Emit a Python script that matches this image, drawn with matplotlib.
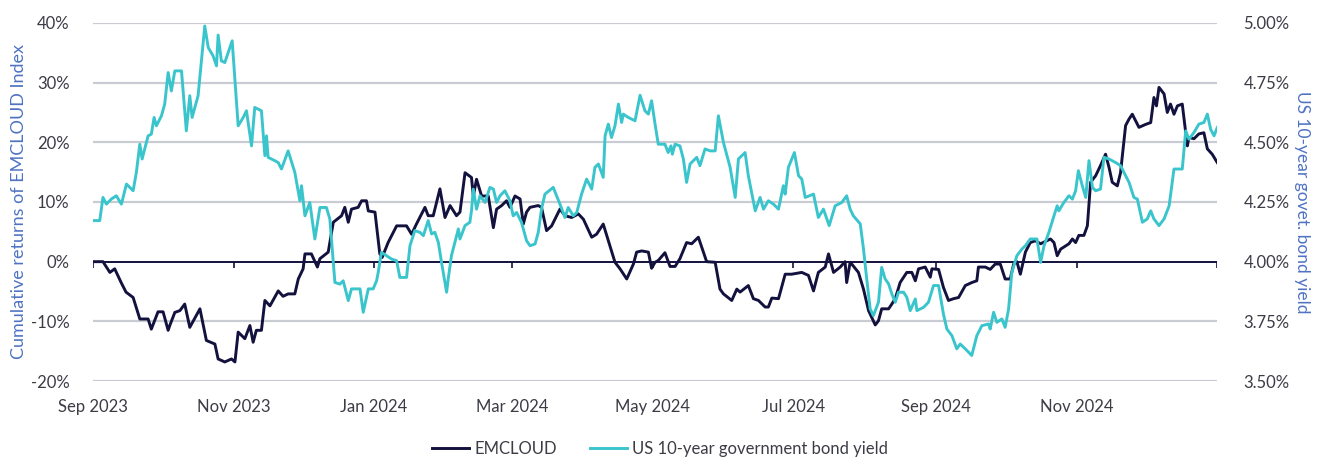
import matplotlib
matplotlib.use("Agg")
import matplotlib.pyplot as plt
import matplotlib.dates as mdates
import pandas as pd

plt.rcParams['font.family'] = ['Lato', 'DejaVu Sans']

START = pd.Timestamp("2023-09-01")
END = pd.Timestamp("2025-01-01")

# EMCLOUD cumulative return (%), day offsets from 2023-09-01
em_days = [0.0, 4.3, 7.3, 9.4, 12.2, 14.3, 17.4, 20.3, 23.9, 25.3, 28.2, 30.4, 32.6, 33.3, 35.5,
           37.7, 39.8, 42.0, 46.4, 49.2, 52.9, 54.3, 57.2, 60.1, 61.6, 63.0, 65.9, 68.1, 69.5,
           70.9, 73.1, 74.6, 76.8, 80.4, 82.5, 84.7, 87.6, 89.1, 91.2, 92.0, 94.8, 97.4, 98.5,
           102.1, 104.3, 107.9, 109.3, 110.8, 112.2, 115.1, 116.6, 118.7, 119.5, 122.4, 124.5,
           125.5, 128.1, 131.8, 136.1, 138.3, 140.4, 144.1, 145.5, 147.7, 150.6, 152.8, 155.0,
           157.8, 159.3, 161.5, 164.3, 165.1, 166.5, 168.7, 171.6, 173.8, 175.2, 177.4, 179.5,
           181.0, 183.2, 185.4, 186.8, 188.2, 189.7, 193.3, 194.7, 196.9, 199.1, 202.7, 204.9,
           207.8, 210.7, 212.9, 216.5, 218.6, 221.5, 223.0, 226.6, 228.8, 231.7, 234.6, 236.0,
           238.2, 241.1, 242.5, 244.0, 245.4, 248.3, 250.5, 252.7, 254.8, 257.7, 259.9, 262.8,
           265.0, 266.4, 270.1, 272.2, 273.7, 277.3, 279.5, 280.9, 284.5, 286.7, 288.9, 291.8,
           293.2, 294.7, 297.6, 300.5, 303.3, 307.7, 310.6, 312.8, 314.9, 317.9, 319.3, 321.5,
           324.4, 326.5, 327.2, 328.7, 329.4, 332.3, 334.5, 336.7, 339.6, 341.0, 342.4, 345.4,
           346.8, 348.3, 350.4, 353.3, 355.5, 357.0, 358.4, 361.3, 363.5, 364.2, 367.1, 369.2,
           371.4, 373.6, 375.8, 378.7, 381.5, 383.7, 384.4, 387.4, 389.5, 391.7, 393.9, 396.0,
           398.2, 399.7, 401.1, 402.6, 404.8, 406.9, 409.1, 411.4, 415.7, 417.2, 418.6, 420.1,
           423.7, 425.2, 426.6, 428.0, 430.2, 431.7, 433.1, 435.3, 437.4, 439.6, 441.1, 442.5,
           444.7, 446.1, 448.3, 449.8, 451.2, 454.1, 457.0, 459.2, 460.6, 461.7, 462.8, 465.0,
           466.4, 467.8, 469.3, 470.8, 472.9, 475.1, 475.8, 478.0, 480.1, 482.3, 483.8, 485.9,
           488.1]
em_vals = [0.0, 0.0, -1.8, -1.2, -3.5, -5.1, -6.0, -9.6, -9.6, -11.3, -8.4, -8.4, -11.5, -10.7, -8.5,
           -8.2, -7.1, -11.0, -7.9, -13.2, -13.8, -16.3, -16.8, -16.3, -16.8, -11.8, -12.9, -10.7, -13.5,
           -11.5, -11.5, -6.5, -7.4, -4.9, -5.8, -5.4, -5.4, -2.9, -1.2, 1.3, 1.3, -0.9, 0.5,
           1.6, 6.6, 7.7, 9.1, 6.6, 8.8, 9.1, 10.2, 10.2, 8.5, 8.3, 1.3,
           0.7, 3.2, 6.0, 6.0, 4.6, 6.3, 9.1, 7.7, 7.7, 12.2, 7.4, 9.4,
           7.7, 8.3, 14.9, 14.1, 11.0, 13.8, 11.0, 11.0, 5.7, 8.8, 9.4, 10.2,
           9.1, 11.0, 10.5, 6.3, 8.3, 9.1, 9.4, 9.1, 5.2, 6.0, 8.8, 7.7,
           7.4, 8.0, 7.1, 4.1, 4.6, 6.3, 4.4, -0.1, -1.2, -2.9, -0.4, 1.6,
           1.8, 1.6, -1.1, -0.1, 0.2, 1.5, -0.8, -0.8, 0.5, 3.2, 3.0, 4.1,
           1.6, 0.0, -0.1, -4.6, -5.4, -6.5, -4.6, -5.1, -4.0, -6.2, -6.5, -7.6,
           -7.6, -6.1, -6.2, -2.1, -2.1, -1.8, -2.3, -4.9, -1.8, -0.9, 1.3, -1.8,
           -0.9, 0.0, -3.5, -0.1, -0.4, -1.8, -4.6, -8.2, -10.6, -9.9, -7.9, -7.9,
           -7.1, -6.2, -3.5, -1.8, -1.8, -3.2, -1.2, -0.9, -2.6, -1.2, -1.3, -4.3,
           -6.5, -6.2, -6.0, -4.0, -3.5, -3.2, -0.9, -0.9, -1.3, -0.4, -0.4, -2.9,
           -2.9, -0.4, 0.0, -2.1, 1.6, 3.2, 3.5, 3.0, 3.8, 3.2, 1.0, 2.1,
           3.0, 3.8, 3.2, 4.4, 4.4, 6.0, 13.3, 14.4, 16.1, 18.0, 15.8, 13.3,
           12.7, 14.9, 22.8, 23.9, 24.7, 22.5, 23.0, 23.3, 27.5, 26.1, 29.2, 28.1,
           25.0, 26.4, 24.7, 26.1, 26.4, 19.4, 20.8, 20.6, 21.4, 21.6, 18.9, 18.0,
           16.6]

# US 10-year government bond yield (%), day offsets from 2023-09-01
us_days = [0.0, 2.9, 4.3, 5.8, 7.9, 10.1, 12.3, 14.5, 17.4, 18.8, 20.3, 21.3, 23.9, 25.3, 26.5,
           27.5, 29.7, 31.1, 32.6, 34.0, 35.5, 38.4, 40.5, 42.0, 43.0, 45.6, 48.5, 50.0, 52.1,
           53.6, 54.3, 55.7, 57.2, 60.4, 63.0, 65.2, 66.6, 68.8, 70.2, 73.1, 74.6, 75.3, 76.0,
           78.9, 80.4, 81.8, 84.7, 87.6, 89.8, 90.5, 92.0, 94.1, 96.3, 98.5, 101.3, 102.8, 105.0,
           107.2, 108.6, 110.8, 112.2, 115.9, 117.3, 119.5, 121.6, 123.1, 123.8, 125.2, 127.4,
           129.6, 131.8, 133.2, 136.1, 137.6, 139.7, 141.9, 143.4, 145.5, 147.0, 148.4, 149.9,
           151.3, 153.5, 154.2, 155.6, 157.1, 158.6, 159.3, 161.5, 163.6, 164.3, 165.1, 166.5,
           168.0, 170.2, 172.3, 173.8, 175.2, 176.7, 178.8, 181.0, 182.4, 183.9, 186.0, 188.2,
           189.7, 191.9, 193.3, 194.7, 196.2, 199.8, 202.7, 204.9, 206.3, 208.5, 210.0, 212.1,
           214.3, 216.5, 217.9, 219.4, 221.5, 222.3, 223.7, 225.1, 226.6, 228.1, 229.5, 230.2,
           232.4, 235.3, 237.5, 239.6, 241.1, 242.5, 244.0, 245.4, 248.3, 249.7, 250.9, 251.5,
           252.7, 254.8, 256.3, 257.7, 259.2, 262.1, 263.5, 265.7, 267.9, 270.1, 271.5, 273.7,
           276.6, 278.8, 280.2, 283.1, 284.5, 287.5, 289.6, 291.1, 293.2, 295.4, 297.6, 299.7,
           300.5, 301.9, 304.5, 306.3, 307.7, 309.2, 312.8, 314.9, 317.1, 319.6, 322.2, 325.1,
           327.2, 328.7, 330.1, 333.1, 334.5, 335.9, 337.4, 338.8, 341.0, 342.4, 343.9, 345.4,
           346.8, 348.3, 349.7, 351.9, 353.3, 354.8, 357.0, 357.7, 360.6, 362.7, 364.9, 367.1,
           369.2, 370.7, 372.9, 375.0, 376.5, 379.4, 381.5, 383.7, 385.9, 388.8, 389.5, 391.0,
           392.4, 394.6, 396.0, 397.5, 398.9, 401.1, 403.3, 404.8, 406.9, 409.8, 411.4, 412.9,
           415.0, 417.2, 418.6, 419.3, 421.5, 423.7, 425.2, 426.6, 427.8, 429.5, 431.0, 432.4,
           433.9, 435.3, 437.4, 438.9, 441.1, 444.0, 446.1, 447.6, 449.8, 451.9, 453.4, 455.6,
           457.7, 459.2, 460.6, 462.8, 465.0, 467.2, 469.3, 472.9, 474.4, 475.8, 478.0, 480.1,
           482.3, 483.8, 485.2, 486.7, 488.1]
us_vals = [4.172, 4.172, 4.269, 4.241, 4.262, 4.276, 4.241, 4.325, 4.297, 4.374, 4.492, 4.430, 4.527, 4.534, 4.604,
           4.569, 4.611, 4.660, 4.792, 4.715, 4.799, 4.799, 4.548, 4.695, 4.604, 4.695, 4.987, 4.897, 4.862,
           4.820, 4.949, 4.841, 4.834, 4.925, 4.569, 4.604, 4.632, 4.485, 4.646, 4.632, 4.444, 4.527, 4.437,
           4.423, 4.415, 4.388, 4.464, 4.374, 4.255, 4.318, 4.192, 4.248, 4.095, 4.227, 4.227, 4.179, 3.913,
           3.906, 3.920, 3.837, 3.886, 3.886, 3.788, 3.886, 3.886, 3.920, 3.955, 4.039, 4.025,
           4.011, 4.004, 3.934, 3.934, 4.067, 4.130, 4.123, 4.109, 4.172, 4.116, 4.123, 4.081,
           3.997, 3.872, 3.928, 4.025, 4.081, 4.137, 4.095, 4.151, 4.165, 4.213, 4.304, 4.220,
           4.276, 4.248, 4.311, 4.304, 4.248, 4.276, 4.297, 4.255, 4.192, 4.206, 4.165, 4.088,
           4.067, 4.074, 4.123, 4.220, 4.283, 4.311, 4.241, 4.185, 4.227, 4.192, 4.206, 4.283,
           4.346, 4.304, 4.395, 4.409, 4.353, 4.527, 4.576, 4.520, 4.569, 4.660, 4.583, 4.618,
           4.604, 4.590, 4.697, 4.632, 4.618, 4.674, 4.576, 4.492, 4.492, 4.457, 4.485, 4.450,
           4.492, 4.485, 4.430, 4.332, 4.409, 4.437, 4.402, 4.472, 4.464, 4.464, 4.611, 4.499,
           4.395, 4.269, 4.430, 4.457, 4.360, 4.213, 4.269, 4.220, 4.255, 4.241, 4.220, 4.318,
           4.283, 4.395, 4.457, 4.360, 4.346, 4.269, 4.283, 4.185, 4.220, 4.151, 4.234, 4.248,
           4.276, 4.220, 4.192, 4.158, 4.053, 3.928, 3.802, 3.774, 3.830, 3.976, 3.928, 3.907,
           3.865, 3.830, 3.872, 3.872, 3.851, 3.795, 3.844, 3.795, 3.809, 3.830, 3.900, 3.900,
           3.781, 3.718, 3.690, 3.635, 3.655, 3.628, 3.607, 3.690, 3.732, 3.739, 3.718, 3.788,
           3.746, 3.760, 3.725, 3.802, 3.955, 4.025, 4.053, 4.067, 4.095, 4.095, 3.997, 4.067,
           4.123, 4.192, 4.234, 4.213, 4.248, 4.276, 4.262, 4.297, 4.381, 4.318, 4.269, 4.423,
           4.311, 4.297, 4.304, 4.437, 4.430, 4.415, 4.402, 4.374, 4.332, 4.269, 4.262, 4.165,
           4.179, 4.213, 4.179, 4.151, 4.179, 4.234, 4.388, 4.388, 4.548, 4.513, 4.541, 4.576,
           4.583, 4.618, 4.555, 4.527, 4.562]

left_ticks = [-20, -10, 0, 10, 20, 30, 40]
right_ticks = [3.50, 3.75, 4.00, 4.25, 4.50, 4.75, 5.00]
month_ticks = pd.date_range("2023-09-01", "2025-01-01", freq="2MS")

NAVY = "#13113d"
TEAL = "#3ac5cc"
GRID = "#c9ccd2"
TICKC = "#3c3c46"
LABC = "#4f73c2"

em_dates = START + pd.to_timedelta(em_days, unit="D")
us_dates = START + pd.to_timedelta(us_days, unit="D")

fig = plt.figure(figsize=(13.2, 4.58), dpi=100)
ax = fig.add_axes([0.0705, 0.168, 0.8515, 0.782])
ax2 = ax.twinx()

ax.set_ylim(-20, 40)
ax2.set_ylim(3.5, 5.0)
ax.set_xlim(START, END)

for t in left_ticks:
    if t != 0:
        ax.axhline(t, color=GRID, lw=1.6, zorder=0)
ax.axhline(0, color=NAVY, lw=1.4, zorder=1)
ax.vlines(month_ticks, -1.0, 0, color=NAVY, lw=1.2, zorder=1)

ax.plot(em_dates, em_vals, color=NAVY, lw=2.1, zorder=3, label="EMCLOUD")
ax2.plot(us_dates, us_vals, color=TEAL, lw=2.1, zorder=3, label="US 10-year government bond yield")

for a in (ax, ax2):
    for s in a.spines.values():
        s.set_visible(False)

ax.set_yticks(left_ticks)
ax.set_yticklabels([f"{t}%" for t in left_ticks])
ax2.set_yticks(right_ticks)
ax2.set_yticklabels([f"{t:.2f}%" for t in right_ticks])
ax.tick_params(axis="y", length=0, pad=17, labelsize=12, labelcolor=TICKC)
ax2.tick_params(axis="y", length=0, pad=19, labelsize=12, labelcolor=TICKC)

ax.set_xticks(month_ticks[:-1])
ax.xaxis.set_major_formatter(mdates.DateFormatter("%b %Y"))
ax.tick_params(axis="x", length=0, pad=13, labelsize=12, labelcolor=TICKC)

ax.set_ylabel("Cumulative returns of EMCLOUD Index", color=LABC, fontsize=13, labelpad=3)
ax2.set_ylabel("US 10-year govet. bond yield", color=LABC, fontsize=12.5, rotation=270,
               labelpad=15)

h1, l1 = ax.get_legend_handles_labels()
h2, l2 = ax2.get_legend_handles_labels()
fig.legend(h1 + h2, l1 + l2, loc="lower center", bbox_to_anchor=(0.5, -0.03), ncol=2,
           frameon=False, fontsize=12, handlelength=2.2, handletextpad=0.3,
           columnspacing=2.0, labelcolor=TICKC)

fig.savefig("out.png", dpi=100)
